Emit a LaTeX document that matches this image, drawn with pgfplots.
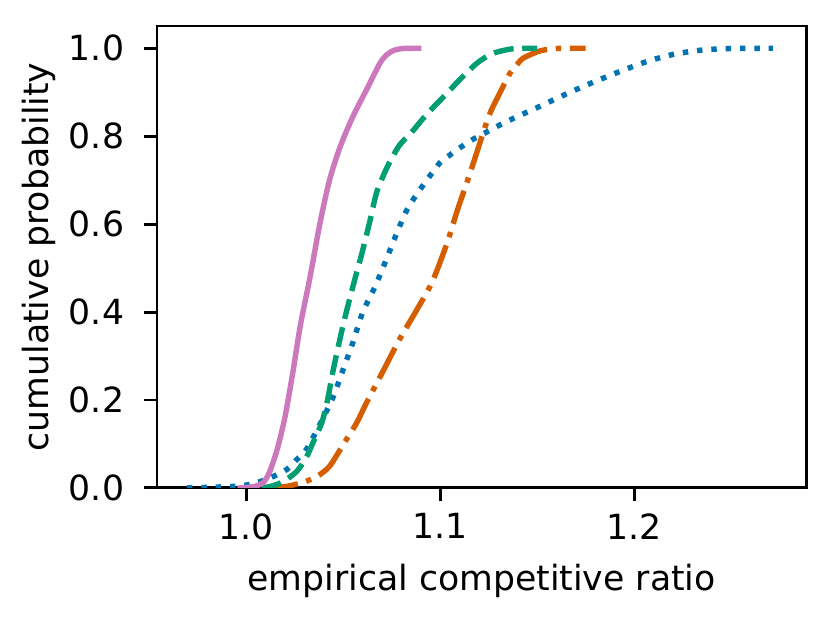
\documentclass[border=0pt]{standalone}
\usepackage{fontspec}
\setmainfont{DejaVu Sans}
\usepackage{pgfplots}
\pgfplotsset{compat=1.18}
\definecolor{cbblue}{HTML}{0173B2}
\definecolor{cbgreen}{HTML}{029E73}
\definecolor{cborange}{HTML}{D55E00}
\definecolor{cbpink}{HTML}{CC78BC}
\begin{document}
\fontsize{12pt}{14pt}\selectfont
\begin{tikzpicture}
\useasboundingbox (0,0) rectangle (288pt,216pt);
\begin{axis}[
  at={(54.35pt,47.1pt)}, anchor=south west,
  scale only axis, width=224.7pt, height=159.9pt,
  xmin=0.9541, xmax=1.2887, ymin=0, ymax=1.0507,
  xtick={1.0,1.1,1.2}, xticklabels={1.0,1.1,1.2},
  ytick={0,0.2,0.4,0.6,0.8,1.0}, yticklabels={0.0,0.2,0.4,0.6,0.8,1.0},
  tick align=outside, major tick length=4.4pt,
  tick style={line width=1pt, black},
  axis line style={line width=1pt},
  every axis/.append style={line width=1pt},
  xtick pos=bottom, ytick pos=left,
  /pgf/number format/assume math mode=true,
  ticklabel style={font=\fontsize{12pt}{14pt}\selectfont},
  yticklabel style={xshift=-2.5pt},
  label style={font=\fontsize{12pt}{14pt}\selectfont},
  xlabel={empirical competitive ratio},
  ylabel={cumulative probability},
  ylabel shift=-4pt,
  every axis plot/.append style={line width=1.875pt, smooth, tension=0.45},
]
\addplot[cbblue, dash pattern=on 1.875pt off 3.09pt, line cap=butt] coordinates {
(0.9696,0) (0.985,0.002) (0.998,0.005) (1.007,0.014) (1.014,0.026) (1.021,0.042)
(1.026,0.064) (1.031,0.087) (1.038,0.144) (1.045,0.208) (1.050,0.269) (1.055,0.330)
(1.060,0.398) (1.0665,0.458) (1.0716,0.512) (1.077,0.572) (1.083,0.633) (1.0907,0.685)
(1.100,0.740) (1.105,0.757) (1.111,0.776) (1.117,0.793) (1.123,0.807)
(1.131,0.826) (1.138,0.841) (1.145,0.855) (1.1515,0.868) (1.164,0.894) (1.178,0.921)
(1.192,0.946) (1.206,0.969) (1.220,0.986) (1.235,0.996) (1.250,0.9995) (1.2716,1.0)
};
\addplot[cborange, dash pattern=on 12pt off 3pt on 1.875pt off 3pt, line cap=butt] coordinates {
(1.009,0) (1.020,0.003) (1.029,0.012) (1.0365,0.026) (1.043,0.049) (1.050,0.098)
(1.057,0.148) (1.062,0.193) (1.071,0.269) (1.079,0.337) (1.088,0.405) (1.096,0.469)
(1.1036,0.557) (1.1088,0.630) (1.114,0.697) (1.1185,0.757)
(1.1225,0.812) (1.126,0.855) (1.131,0.900) (1.136,0.943) (1.140,0.965) (1.143,0.978)
(1.1515,0.994) (1.160,0.9995) (1.175,1.0)
};
\addplot[cbgreen, dash pattern=on 6.94pt off 3pt, line cap=butt] coordinates {
(1.008,0) (1.013,0.004) (1.019,0.014) (1.026,0.037) (1.031,0.069) (1.0345,0.103)
(1.039,0.148) (1.042,0.200) (1.045,0.270) (1.050,0.370) (1.054,0.440) (1.057,0.490)
(1.0598,0.535) (1.064,0.610) (1.0675,0.675) (1.073,0.732) (1.079,0.779) (1.085,0.807)
(1.091,0.839) (1.097,0.868) (1.103,0.895) (1.110,0.928) (1.119,0.966) (1.127,0.988)
(1.1376,0.999) (1.15,1.0)
};
\addplot[cbpink, line cap=rect] coordinates {
(0.997,0) (1.004,0.003) (1.0088,0.012) (1.012,0.035) (1.016,0.087) (1.020,0.160)
(1.024,0.260) (1.028,0.370) (1.033,0.480) (1.038,0.600) (1.043,0.700) (1.0485,0.776)
(1.055,0.844) (1.062,0.905) (1.069,0.966) (1.0725,0.985) (1.076,0.995) (1.081,0.9995) (1.089,1.0)
};
\end{axis}
\end{tikzpicture}
\end{document}
